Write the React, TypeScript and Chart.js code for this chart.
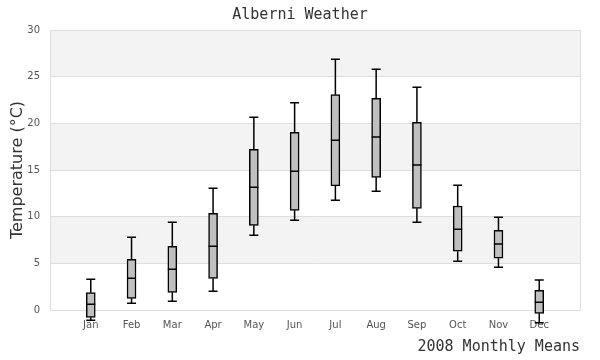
import React, { useEffect, useRef } from "react";
import { Chart, registerables } from "chart.js";

Chart.register(...registerables);

const months = ["Jan", "Feb", "Mar", "Apr", "May", "Jun", "Jul", "Aug", "Sep", "Oct", "Nov", "Dec"];
const whiskerLow = [-1.1, 0.71, 0.93, 2.0, 8.0, 9.61, 11.75, 12.71, 9.39, 5.21, 4.57, -1.36];
const q1 = [-0.79, 1.25, 1.89, 3.39, 9.07, 10.68, 13.3, 14.21, 10.89, 6.29, 5.54, -0.36];
const medians = [0.61, 3.39, 4.36, 6.82, 13.14, 14.86, 18.18, 18.54, 15.54, 8.64, 7.07, 0.82];
const q3 = [1.86, 5.43, 6.82, 10.36, 17.21, 19.04, 23.07, 22.68, 20.11, 11.14, 8.54, 2.11];
const whiskerHigh = [3.29, 7.79, 9.39, 13.04, 20.64, 22.21, 26.86, 25.79, 23.86, 13.36, 9.93, 3.21];
const yTicks = [0, 5, 10, 15, 20, 25, 30];

const TICK_FONT = { family: "'DejaVu Sans', sans-serif", size: 10 };

const bandsPlugin = {
  id: "bands",
  beforeDraw(chart: any) {
    const { ctx, chartArea } = chart;
    const y = chart.scales.y;
    ctx.save();
    ctx.fillStyle = "#ffffff";
    ctx.fillRect(chartArea.left, chartArea.top, chartArea.right - chartArea.left, chartArea.bottom - chartArea.top);
    for (let i = 0; i < yTicks.length - 1; i++) {
      if ((yTicks.length - 2 - i) % 2 === 0) {
        const top = y.getPixelForValue(yTicks[i + 1]);
        const bot = y.getPixelForValue(yTicks[i]);
        ctx.fillStyle = "#f3f3f3";
        ctx.fillRect(chartArea.left, top, chartArea.right - chartArea.left, bot - top);
      }
    }
    ctx.strokeStyle = "#dddddd";
    ctx.lineWidth = 1;
    ctx.strokeRect(Math.round(chartArea.left) + 0.5, Math.round(chartArea.top) + 0.5,
      Math.round(chartArea.right - chartArea.left), Math.round(chartArea.bottom - chartArea.top));
    ctx.restore();
  },
};

const whiskerPlugin = {
  id: "whiskers",
  afterDatasetsDraw(chart: any) {
    const { ctx } = chart;
    const xs = chart.scales.x;
    const ys = chart.scales.y;
    const half = 4.5;
    ctx.save();
    ctx.strokeStyle = "#000000";
    ctx.lineWidth = 1.5;
    months.forEach((_, i) => {
      const x = xs.getPixelForValue(i + 1);
      const yHi = ys.getPixelForValue(whiskerHigh[i]);
      const yQ3 = ys.getPixelForValue(q3[i]);
      const yQ1 = ys.getPixelForValue(q1[i]);
      const yLo = ys.getPixelForValue(whiskerLow[i]);
      const yMed = ys.getPixelForValue(medians[i]);
      ctx.beginPath();
      ctx.moveTo(x, yQ3);
      ctx.lineTo(x, yHi);
      ctx.moveTo(x - half, yHi);
      ctx.lineTo(x + half, yHi);
      ctx.moveTo(x, yQ1);
      ctx.lineTo(x, yLo);
      ctx.moveTo(x - half, yLo);
      ctx.lineTo(x + half, yLo);
      ctx.moveTo(x - half, yMed);
      ctx.lineTo(x + half, yMed);
      ctx.stroke();
    });
    ctx.restore();
  },
};

export default function App() {
  const ref = useRef<HTMLCanvasElement>(null);

  useEffect(() => {
    const prevMargin = document.body.style.margin;
    document.body.style.margin = "0";
    const canvas = ref.current!;
    const chart = new Chart(canvas, {
      type: "bar",
      data: {
        datasets: [
          {
            label: "Monthly Means",
            data: months.map((_, i) => ({ x: i + 1, y: [q1[i], q3[i]] })) as any,
            backgroundColor: "#c0c0c0",
            borderColor: "#000000",
            borderWidth: 1.5,
            borderSkipped: false,
            barThickness: 9,
            clip: false as any,
          },
        ],
      },
      plugins: [bandsPlugin, whiskerPlugin],
      options: {
        animation: false,
        responsive: false,
        devicePixelRatio: 1,
        layout: { padding: { top: 0, right: 0, left: 0, bottom: 0 } },
        plugins: {
          legend: { display: false },
          tooltip: { enabled: false },
          title: {
            display: true,
            text: "Alberni Weather",
            color: "#333333",
            font: { family: "'DejaVu Sans Mono', monospace", size: 15, weight: "normal" },
            padding: { top: 6, bottom: 6 },
          },
        },
        scales: {
          x: {
            type: "linear",
            offset: false,
            min: 0,
            max: 13,
            afterBuildTicks: (scale: any) => {
              scale.ticks = months.map((_, i) => ({ value: i + 1 }));
            },
            afterFit: (scale: any) => {
              scale.height = 50;
            },
            ticks: {
              autoSkip: false,
              maxRotation: 0,
              color: "#555555",
              font: TICK_FONT,
              padding: 9,
              callback: (v: any) => months[Number(v) - 1] ?? "",
            },
            grid: { display: false, drawTicks: false, offset: false },
            border: { display: true, color: "#dddddd" },
            title: {
              display: true,
              text: "2008 Monthly Means",
              align: "end",
              color: "#333333",
              font: { family: "'DejaVu Sans Mono', monospace", size: 15, weight: "normal" },
              padding: { top: 0, bottom: 4 },
            },
          },
          y: {
            min: 0,
            max: 30,
            afterBuildTicks: (scale: any) => {
              scale.ticks = yTicks.map((v) => ({ value: v }));
            },
            afterFit: (scale: any) => {
              scale.width = 50;
            },
            ticks: {
              color: "#555555",
              font: TICK_FONT,
              padding: 10,
            },
            grid: { color: "#dddddd", drawTicks: false },
            border: { display: true, color: "#dddddd" },
            title: {
              display: true,
              text: "Temperature (°C)",
              color: "#333333",
              font: { family: "'DejaVu Sans', sans-serif", size: 16, weight: "normal" },
              padding: { top: 8, bottom: 0 },
            },
          },
          rightSpacer: {
            type: "linear",
            position: "right",
            display: true,
            afterFit: (scale: any) => {
              scale.width = 20;
            },
            ticks: { display: false },
            grid: { display: false, drawTicks: false },
            border: { display: false },
          },
        },
      } as any,
    });
    return () => {
      chart.destroy();
      document.body.style.margin = prevMargin;
    };
  }, []);

  return (
    <div style={{ position: "absolute", left: 0, top: 0, width: 600, height: 360 }}>
      <canvas ref={ref} width={600} height={360} style={{ display: "block", width: 600, height: 360 }} />
    </div>
  );
}
